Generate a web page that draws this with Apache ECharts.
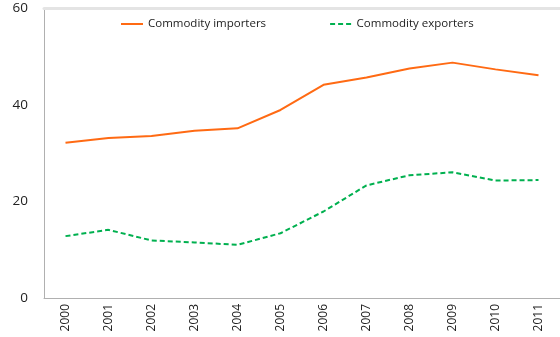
<!DOCTYPE html>
<html><head><meta charset="utf-8">
<script src="https://cdn.jsdelivr.net/npm/echarts@6/dist/echarts.min.js"></script>
<style>html,body{margin:0;padding:0;background:#fff}#c{width:560px;height:337px}</style>
</head><body><div id="c"></div>
<script>
const years = ['2000','2001','2002','2003','2004','2005','2006','2007','2008','2009','2010','2011'];
const importers = [32.1, 33.1, 33.5, 34.6, 35.1, 38.9, 44.1, 45.6, 47.5, 48.7, 47.3, 46.1];
const exporters = [12.8, 14.1, 11.9, 11.5, 11.0, 13.4, 17.9, 23.3, 25.4, 26.0, 24.3, 24.4];
const yTicks = [0, 20, 40, 60];
const chart = echarts.init(document.getElementById('c'), null, {renderer:'canvas'});
const font = 'Open Sans';
chart.setOption({
  animation: false,
  grid: {left: 44, right: 0, top: 8, bottom: 39},
  legend: {
    top: 13, left: 116, itemGap: 64, itemWidth: 22, itemHeight: 2,
    textStyle: {fontFamily: font, fontSize: 11.5, color: '#222'},
    icon: 'path://M0,0 L22,0 L22,2 L0,2 Z',
    data: [
      {name: 'Commodity importers'},
      {name: 'Commodity exporters', icon: 'path://M0,0 L5,0 L5,2 L0,2 Z M8,0 L13,0 L13,2 L8,2 Z M16,0 L21,0 L21,2 L16,2 Z'}
    ]
  },
  xAxis: [{
    type: 'category', data: years, boundaryGap: true,
    axisLine: {lineStyle: {color: '#b0b0b0', width: 1}},
    axisTick: {show: false},
    axisLabel: {rotate: 90, fontFamily: font, fontSize: 12, color: '#222', margin: 6, interval: 0}
  }, {
    type: 'category', data: years, position: 'top',
    axisLine: {lineStyle: {color: '#e4e4e4', width: 3}},
    axisTick: {show: false}, axisLabel: {show: false}
  }],
  yAxis: {
    type: 'value', min: yTicks[0], max: yTicks[yTicks.length-1], interval: 20,
    axisLine: {show: true, lineStyle: {color: '#b0b0b0', width: 1}},
    axisTick: {show: false}, splitLine: {show: false},
    axisLabel: {fontFamily: font, fontSize: 13.5, color: '#222', margin: 16}
  },
  series: [
    {name: 'Commodity importers', type: 'line', data: importers, symbol: 'none',
     lineStyle: {color: '#ff6a13', width: 2}, itemStyle: {color: '#ff6a13'}},
    {name: 'Commodity exporters', type: 'line', data: exporters, symbol: 'none',
     lineStyle: {color: '#00b04f', width: 2, type: [5, 3]}, itemStyle: {color: '#00b04f'}}
  ]
});
</script></body></html>
